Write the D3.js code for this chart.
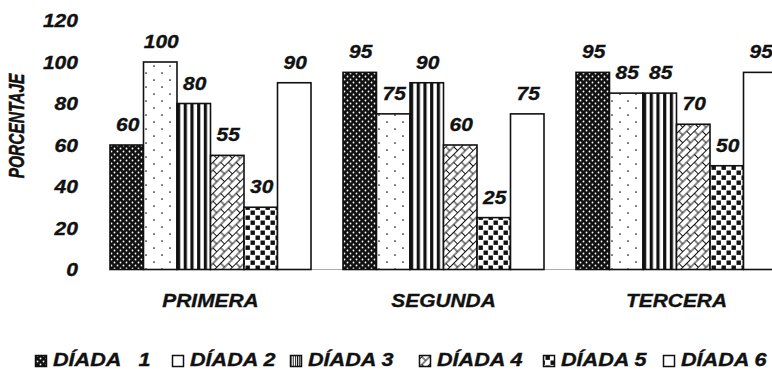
<!DOCTYPE html>
<html><head><meta charset="utf-8">
<script src="https://cdn.jsdelivr.net/npm/d3@7"></script>
<style>
body{margin:0;background:#fff;}
svg{display:block;}
text{font-family:"Liberation Sans",Arial,Helvetica,sans-serif;font-weight:bold;font-style:italic;fill:#111;stroke:#111;stroke-width:0.35px;}
</style></head>
<body><svg id="c" width="772" height="370"></svg>
<script>
const categories = ["PRIMERA", "SEGUNDA", "TERCERA"];
const series = ["DÍADA   1", "DÍADA 2", "DÍADA 3", "DÍADA 4", "DÍADA 5", "DÍADA 6"];
const valuesPrimera = [60, 100, 80, 55, 30, 90];
const valuesSegunda = [95, 75, 90, 60, 25, 75];
const valuesTercera = [95, 85, 85, 70, 50, 95];
const yTicks = [0, 20, 40, 60, 80, 100, 120];
const yLabel = "PORCENTAJE";

const values = [valuesPrimera, valuesSegunda, valuesTercera];
const svg = d3.select("#c");
const defs = svg.append("defs");

// 1: dark with white dots
let p = defs.append("pattern").attr("id","p0").attr("patternUnits","userSpaceOnUse").attr("width",6).attr("height",6);
p.append("rect").attr("width",6).attr("height",6).attr("fill","#111");
p.append("circle").attr("cx",1.5).attr("cy",1.5).attr("r",0.9).attr("fill","#fff");
p.append("circle").attr("cx",4.5).attr("cy",4.5).attr("r",0.9).attr("fill","#fff");
// 2: white with sparse dots
p = defs.append("pattern").attr("id","p1").attr("patternUnits","userSpaceOnUse").attr("width",16).attr("height",14);
p.append("rect").attr("width",16).attr("height",14).attr("fill","#fff");
p.append("circle").attr("cx",4).attr("cy",3).attr("r",0.85).attr("fill","#111");
p.append("circle").attr("cx",12).attr("cy",10).attr("r",0.85).attr("fill","#111");
// 3: vertical stripes
p = defs.append("pattern").attr("id","p2").attr("patternUnits","objectBoundingBox").attr("patternContentUnits","objectBoundingBox").attr("width",0.2).attr("height",1);
p.append("rect").attr("width",0.2).attr("height",1).attr("fill","#fff");
p.append("rect").attr("x",0).attr("width",0.095).attr("height",1).attr("fill","#111");
// 4: diagonal brick lattice
p = defs.append("pattern").attr("id","p3").attr("patternUnits","userSpaceOnUse").attr("width",11).attr("height",11).attr("patternTransform","rotate(-45)");
p.append("rect").attr("width",11).attr("height",11).attr("fill","#fff");
p.append("line").attr("x1",0).attr("x2",11).attr("y1",0.5).attr("y2",0.5).attr("stroke","#111").attr("stroke-width",1);
p.append("line").attr("x1",0).attr("x2",11).attr("y1",6).attr("y2",6).attr("stroke","#111").attr("stroke-width",1);
p.append("line").attr("x1",2).attr("x2",2).attr("y1",0.5).attr("y2",6).attr("stroke","#111").attr("stroke-width",1);
p.append("line").attr("x1",7.5).attr("x2",7.5).attr("y1",6).attr("y2",11.5).attr("stroke","#111").attr("stroke-width",1);
// 5: checkerboard
p = defs.append("pattern").attr("id","p4").attr("patternUnits","userSpaceOnUse").attr("width",10).attr("height",10);
p.append("rect").attr("width",10).attr("height",10).attr("fill","#fff");
p.append("rect").attr("x",0.5).attr("y",0.5).attr("width",4.4).attr("height",4.4).attr("fill","#111");
p.append("rect").attr("x",5.5).attr("y",5.5).attr("width",4.4).attr("height",4.4).attr("fill","#111");
const fills = ["url(#p0)","url(#p1)","url(#p2)","url(#p3)","url(#p4)","#fff"];

const y = d3.scaleLinear().domain([0,120]).range([269.5, 20.5]);
const x0 = d3.scaleBand().domain(categories).range([110, 777]).paddingInner(32/233).paddingOuter(0);
const x1 = d3.scaleBand().domain(series).range([0, x0.bandwidth()]);

// y tick labels
svg.append("g").selectAll("text").data(yTicks).join("text")
  .attr("text-anchor","end")
  .attr("transform", d => `translate(78,${y(d)+6.5}) scale(1.17,1)`)
  .style("font-size","18px")
  .text(d => d);

// y axis title
svg.append("text")
  .attr("text-anchor","middle")
  .attr("transform", `translate(24,126) scale(1.45,1) rotate(-90)`)
  .style("font-size","15.5px")
  .text(yLabel);

// baseline
svg.append("line").attr("x1",110).attr("x2",772).attr("y1",y(0)).attr("y2",y(0))
  .attr("stroke","#aaa").attr("stroke-width",1);

// bars
const groups = svg.append("g").selectAll("g").data(categories).join("g")
  .attr("transform", d => `translate(${x0(d)},0)`);
groups.each(function(cat, ci){
  const g = d3.select(this);
  const data = series.map((s,i) => ({s, i, v: values[ci][i]}));
  g.selectAll("rect").data(data).join("rect")
    .attr("x", d => x1(d.s))
    .attr("y", d => y(d.v))
    .attr("width", x1.bandwidth())
    .attr("height", d => y(0) - y(d.v))
    .attr("fill", d => fills[d.i])
    .attr("stroke","#111").attr("stroke-width",1.6);
  g.selectAll("text.v").data(data).join("text").attr("class","v")
    .attr("text-anchor","middle")
    .attr("transform", d => `translate(${x1(d.s)+x1.bandwidth()/2+1},${y(d.v)-14}) scale(1.1,1)`)
    .style("font-size","19px")
    .text(d => d.v);
  g.append("text")
    .attr("text-anchor","middle")
    .attr("transform", `translate(${x0.bandwidth()/2},307) scale(1.1,1)`)
    .style("font-size","19px")
    .text(cat);
});

// legend
const lx = [35, 172, 290, 419, 543, 663];
const leg = svg.append("g");
series.forEach((s,i) => {
  const start = lx[i];
  leg.append("rect").attr("x", start+0.5).attr("y", 355.5).attr("width", 11).attr("height", 11)
    .attr("fill", fills[i]).attr("stroke","#111").attr("stroke-width",1.5);
  leg.append("text")
    .attr("transform", `translate(${start+18},366) scale(1.2,1)`)
    .style("font-size","18px").style("white-space","pre")
    .text(s);
});
</script></body></html>
